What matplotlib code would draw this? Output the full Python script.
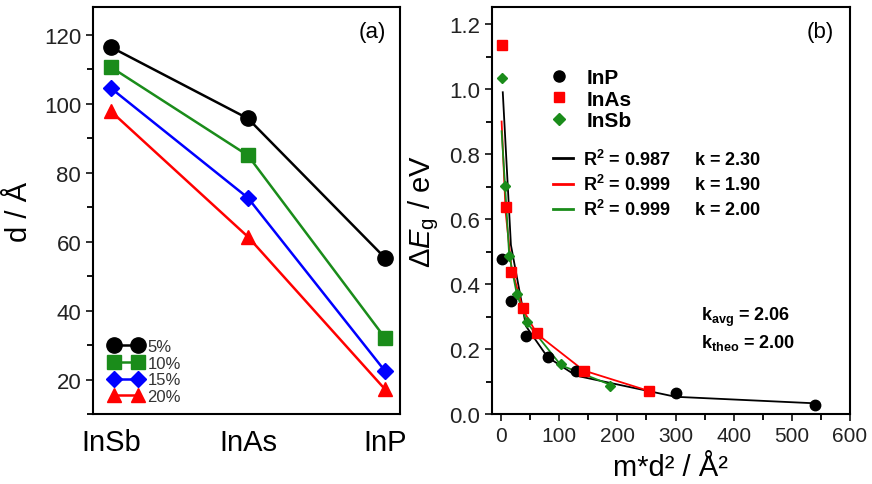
import matplotlib
matplotlib.use("Agg")
import matplotlib.pyplot as plt
from matplotlib.lines import Line2D
from matplotlib.ticker import MultipleLocator

plt.rcParams['font.family'] = ['Liberation Sans', 'DejaVu Sans']
plt.rcParams['mathtext.fontset'] = 'custom'
plt.rcParams['mathtext.rm'] = 'Liberation Sans'
plt.rcParams['mathtext.it'] = 'Liberation Sans:italic'
plt.rcParams['mathtext.bf'] = 'Liberation Sans:bold'

# ---- panel (a) data ----
materials = ["InSb", "InAs", "InP"]
conc_labels = ["5%", "10%", "15%", "20%"]
d_5 = [116.4, 95.7, 55.3]
d_10 = [110.6, 85.0, 32.1]
d_15 = [104.5, 72.7, 22.5]
d_20 = [97.8, 61.4, 17.2]

# ---- panel (b) data ----
inp_x = [2, 17, 43, 80, 129, 300, 539]
inp_y = [0.477, 0.349, 0.239, 0.174, 0.133, 0.065, 0.028]
inas_x = [2, 8, 18, 38, 62, 142, 254]
inas_y = [1.136, 0.636, 0.436, 0.325, 0.248, 0.131, 0.070]
insb_x = [2, 7, 14, 27, 45, 103, 188]
insb_y = [1.034, 0.703, 0.485, 0.369, 0.282, 0.154, 0.087]

fit_inp_x = [3, 17, 43, 80, 129, 300, 539]
fit_inp_y = [0.99, 0.52, 0.27, 0.175, 0.118, 0.053, 0.033]
fit_inas_x = [1, 8, 18, 38, 62, 142, 254]
fit_inas_y = [0.90, 0.62, 0.45, 0.32, 0.246, 0.134, 0.071]
fit_insb_x = [1, 7, 14, 27, 45, 103, 188]
fit_insb_y = [0.87, 0.70, 0.49, 0.37, 0.28, 0.15, 0.09]

fit_r2 = ["0.987", "0.999", "0.999"]
fit_k = ["2.30", "1.90", "2.00"]
k_avg = "2.06"
k_theo = "2.00"

BLACK = "#000000"
GREEN = "#1a8c1a"
BLUE = "#0000ff"
RED = "#ff0000"

fig = plt.figure(figsize=(8.72, 4.85), dpi=100)

# ================= panel (a) =================
axa = fig.add_axes([0.1067, 0.1443, 0.352, 0.839])
xs = list(range(len(materials)))
series = [(d_5, BLACK, 'o', 11), (d_10, GREEN, 's', 9.5),
          (d_15, BLUE, 'D', 8.5), (d_20, RED, '^', 10.5)]
handles = []
for (vals, col, mk, ms), lab in zip(series, conc_labels):
    h, = axa.plot(xs, vals, color=col, marker=mk, ms=ms, lw=1.8,
                  markeredgecolor=col, label=lab)
    handles.append(h)
axa.set_xlim(-0.13, 2.11)
axa.set_ylim(10, 128)
axa.set_xticks(xs)
axa.set_xticklabels(materials, fontsize=21)
axa.tick_params(axis='x', length=0, pad=10)
axa.yaxis.set_major_locator(MultipleLocator(20))
axa.yaxis.set_minor_locator(MultipleLocator(10))
axa.set_yticks([20, 40, 60, 80, 100, 120])
axa.tick_params(axis='y', which='major', direction='out', length=5, width=1.3,
                labelsize=16, colors='#222222')
axa.tick_params(axis='y', which='minor', direction='out', length=4, width=1.3)
axa.set_ylabel("d / Å", fontsize=21, labelpad=8)
for sp in axa.spines.values():
    sp.set_linewidth(1.5)
axa.text(0.955, 0.965, "(a)", transform=axa.transAxes, ha='right', va='top',
         fontsize=16)
leg = axa.legend(handles=handles, loc='lower left', numpoints=2,
                 fontsize=12, frameon=False, handlelength=2.0,
                 handletextpad=0.3, labelspacing=0.1,
                 borderaxespad=0.2, bbox_to_anchor=(0.02, 0.0))
for t in leg.get_texts():
    t.set_color('#333333')

# ================= panel (b) =================
axb = fig.add_axes([0.5639, 0.1443, 0.4109, 0.839])
axb.plot(fit_inp_x, fit_inp_y, color=BLACK, lw=1.3, zorder=2)
axb.plot(fit_inas_x, fit_inas_y, color=RED, lw=1.3, zorder=2)
axb.plot(fit_insb_x, fit_insb_y, color=GREEN, lw=1.3, zorder=2)
axb.plot(inp_x, inp_y, 'o', color=BLACK, ms=7.5, zorder=3)
axb.plot(inas_x, inas_y, 's', color=RED, ms=6.5, zorder=3)
axb.plot(insb_x, insb_y, 'D', color=GREEN, ms=5.5, zorder=3)

axb.set_xlim(-16, 600)
axb.set_ylim(0, 1.252)
axb.xaxis.set_major_locator(MultipleLocator(100))
axb.xaxis.set_minor_locator(MultipleLocator(50))
axb.yaxis.set_major_locator(MultipleLocator(0.2))
axb.yaxis.set_minor_locator(MultipleLocator(0.1))
axb.yaxis.set_major_formatter(matplotlib.ticker.FormatStrFormatter('%.1f'))
axb.tick_params(which='major', direction='out', length=5, width=1.3,
                labelsize=16, colors='#222222')
axb.tick_params(which='minor', direction='out', length=4, width=1.3)
axb.tick_params(axis='x', labelsize=15)
for sp in axb.spines.values():
    sp.set_linewidth(1.5)
axb.set_xlabel("m*d² / Å²", fontsize=21, labelpad=6)
axb.set_ylabel(r"$\Delta E_\mathrm{g}$ / eV", fontsize=21, labelpad=6)
axb.text(0.955, 0.965, "(b)", transform=axb.transAxes, ha='right', va='top',
         fontsize=16)

# marker legend
mk_handles = [Line2D([], [], ls='none', marker='o', color=BLACK, ms=8),
              Line2D([], [], ls='none', marker='s', color=RED, ms=7),
              Line2D([], [], ls='none', marker='D', color=GREEN, ms=6)]
leg1 = axb.legend(mk_handles, ["InP", "InAs", "InSb"], loc='upper left',
                  bbox_to_anchor=(0.16, 0.85), frameon=False,
                  prop={'size': 15, 'weight': 'bold'}, handlelength=1.0,
                  handletextpad=0.8, labelspacing=0.12, borderaxespad=0,
                  borderpad=0)
axb.add_artist(leg1)

# fit legend
ln_handles = [Line2D([], [], color=BLACK, lw=2),
              Line2D([], [], color=RED, lw=2),
              Line2D([], [], color=GREEN, lw=2)]
ln_labels = [r"$\mathbf{R^2}$ = " + r + "     k = " + k
             for r, k in zip(fit_r2, fit_k)]
leg2 = axb.legend(ln_handles, ln_labels, loc='upper left',
                  bbox_to_anchor=(0.171, 0.652), frameon=False,
                  prop={'size': 13, 'weight': 'bold'}, handlelength=1.1,
                  handletextpad=0.55, labelspacing=0.28, borderaxespad=0,
                  borderpad=0)

axb.text(0.585, 0.232, r"$\mathbf{k_{avg}}$ = " + k_avg,
         transform=axb.transAxes, fontsize=13, fontweight='bold',
         ha='left', va='baseline')
axb.text(0.585, 0.165, r"$\mathbf{k_{theo}}$ = " + k_theo,
         transform=axb.transAxes, fontsize=13, fontweight='bold',
         ha='left', va='baseline')

fig.savefig("out.png", dpi=100)
